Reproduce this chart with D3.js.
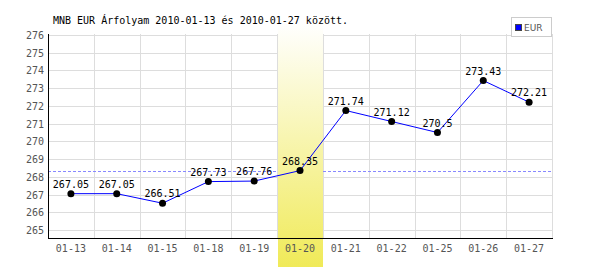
<!DOCTYPE html>
<html>
<head>
<meta charset="utf-8">
<script src="https://cdn.jsdelivr.net/npm/d3@7"></script>
<style>
  body { margin: 0; background: #fff; }
  svg text { font-family: "DejaVu Sans Mono", monospace; font-size: 10px; }
</style>
</head>
<body>
<div id="chart"></div>
<script>
// Adatok
const dates = ["01-13", "01-14", "01-15", "01-18", "01-19", "01-20", "01-21", "01-22", "01-25", "01-26", "01-27"];
const eurValues = [267.05, 267.05, 266.51, 267.73, 267.76, 268.35, 271.74, 271.12, 270.5, 273.43, 272.21];
const yTicks = [265, 266, 267, 268, 269, 270, 271, 272, 273, 274, 275, 276];
const highlightDate = "01-20";
const refValue = 268.35;
const titleText = "MNB EUR Árfolyam 2010-01-13 és 2010-01-27 között.";

const width = 600, height = 270;
const plotLeft = 48, plotRight = 552, plotTop = 35, plotBottom = 238;

const svg = d3.select("#chart")
    .append("svg")
    .attr("width", width)
    .attr("height", height);

const x = d3.scaleBand().domain(dates).range([plotLeft, plotRight]).padding(0);
const y = d3.scaleLinear().domain([265, 276]).range([230, 35]);

// Rács
svg.append("g")
    .selectAll("line")
    .data(yTicks)
    .enter()
    .append("line")
    .attr("x1", plotLeft).attr("x2", plotRight)
    .attr("y1", d => Math.round(y(d)) + 0.5).attr("y2", d => Math.round(y(d)) + 0.5)
    .style("stroke", "#dddddd");

svg.append("g")
    .selectAll("line")
    .data(dates)
    .enter()
    .append("line")
    .attr("x1", d => Math.round(x(d) + x.bandwidth()) + 0.5)
    .attr("x2", d => Math.round(x(d) + x.bandwidth()) + 0.5)
    .attr("y1", plotTop - 1).attr("y2", plotBottom)
    .style("stroke", "#dddddd");

// Referencia vonal
svg.append("line")
    .attr("x1", plotLeft).attr("x2", plotRight)
    .attr("y1", Math.round(y(refValue)) + 0.5).attr("y2", Math.round(y(refValue)) + 0.5)
    .style("stroke", "#8888ff")
    .style("stroke-dasharray", "3,2");

// Kiemelt nap
const grad = svg.append("defs").append("linearGradient")
    .attr("id", "hl").attr("x1", 0).attr("y1", 0).attr("x2", 0).attr("y2", 1);
grad.append("stop").attr("offset", "0%").attr("stop-color", "#ffffff");
grad.append("stop").attr("offset", "100%").attr("stop-color", "#f0ea58");

svg.append("rect")
    .attr("x", Math.round(x(highlightDate)) + 1)
    .attr("y", 23)
    .attr("width", Math.round(x.bandwidth()) - 1)
    .attr("height", 244)
    .attr("fill", "url(#hl)");

// Tengelyek
svg.append("line")
    .attr("x1", plotLeft + 0.5).attr("x2", plotLeft + 0.5)
    .attr("y1", plotTop - 1).attr("y2", plotBottom)
    .style("stroke", "#000");
svg.append("line")
    .attr("x1", plotLeft).attr("x2", plotRight + 1)
    .attr("y1", plotBottom + 0.5).attr("y2", plotBottom + 0.5)
    .style("stroke", "#000");

svg.append("g")
    .selectAll("text")
    .data(yTicks)
    .enter()
    .append("text")
    .attr("x", 44)
    .attr("y", d => y(d) + 4)
    .attr("text-anchor", "end")
    .attr("fill", "#555")
    .text(d => d);

svg.append("g")
    .selectAll("text")
    .data(dates)
    .enter()
    .append("text")
    .attr("x", d => x(d) + x.bandwidth() / 2)
    .attr("y", 252)
    .attr("text-anchor", "middle")
    .attr("fill", "#555")
    .text(d => d);

// Vonal és pontok
const line = d3.line()
    .x((d, i) => x(dates[i]) + x.bandwidth() / 2)
    .y(d => y(d));

svg.append("path")
    .datum(eurValues)
    .attr("d", line)
    .attr("fill", "none")
    .style("stroke", "#0000ff");

svg.append("g")
    .selectAll("circle")
    .data(eurValues)
    .enter()
    .append("circle")
    .attr("cx", (d, i) => x(dates[i]) + x.bandwidth() / 2)
    .attr("cy", d => y(d))
    .attr("r", 3.5)
    .attr("fill", "#000");

svg.append("g")
    .selectAll("text")
    .data(eurValues)
    .enter()
    .append("text")
    .attr("x", (d, i) => x(dates[i]) + x.bandwidth() / 2)
    .attr("y", d => y(d) - 6)
    .attr("text-anchor", "middle")
    .attr("fill", "#000")
    .text(d => String(d));

// Cím
svg.append("text")
    .attr("x", 53)
    .attr("y", 24)
    .attr("fill", "#000")
    .text(titleText);

// Jelmagyarázat
svg.append("rect")
    .attr("x", 511.5).attr("y", 17.5)
    .attr("width", 40).attr("height", 19)
    .attr("fill", "#fff")
    .style("stroke", "#cccccc");
svg.append("rect")
    .attr("x", 515.5).attr("y", 24.5)
    .attr("width", 6).attr("height", 6)
    .attr("fill", "#0000ff")
    .style("stroke", "#444");
svg.append("text")
    .attr("x", 524)
    .attr("y", 31)
    .attr("fill", "#555")
    .style("font-family", "'DejaVu Sans', sans-serif")
    .style("font-size", "9px")
    .text("EUR");
</script>
</body>
</html>
